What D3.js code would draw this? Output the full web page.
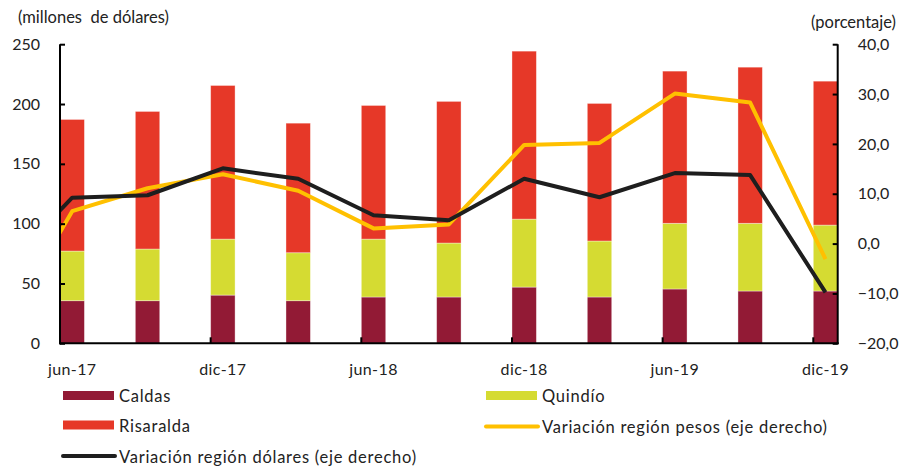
<!DOCTYPE html>
<html>
<head>
<meta charset="utf-8">
<script src="https://cdn.jsdelivr.net/npm/d3@7"></script>
<style>
  html, body { margin: 0; padding: 0; background: #fff; }
  svg text { font-family: Lato, "Open Sans", sans-serif; fill: #222; }
</style>
</head>
<body>
<svg id="chart" width="902" height="466"></svg>
<script>
// ---- data ----
const categories = ["jun-17","sep-17","dic-17","mar-18","jun-18","sep-18","dic-18","mar-19","jun-19","sep-19","dic-19"];
const tickLabels = ["jun-17","dic-17","jun-18","dic-18","jun-19","dic-19"];
const caldas    = [35.6, 35.6, 40.3, 35.6, 38.7, 38.7, 47.0, 38.7, 45.4, 43.7, 43.7];
const quindio   = [41.5, 43.2, 46.8, 40.1, 48.4, 45.1, 56.8, 46.8, 54.9, 56.6, 55.1];
const risaralda = [110.0, 115.0, 128.4, 108.3, 111.7, 118.4, 140.4, 115.0, 127.2, 130.5, 120.3];
// previous quarter (mar-17) only shows as the clipped entry segment
const prevCategory = "mar-17";
const varPesosPrev = -19.6;
const varDolaresPrev = -6.5;
const varPesos   = [6.5, 11.1, 13.9, 10.6, 3.05, 3.85, 19.8, 20.2, 30.1, 28.3, -3.1];
const varDolares = [9.2, 9.7, 15.1, 13.0, 5.7, 4.7, 13.0, 9.3, 14.15, 13.75, -9.8];
const leftTicks  = [0, 50, 100, 150, 200, 250];
const rightTicks = [-20, -10, 0, 10, 20, 30, 40];

const colors = { caldas: "#921a35", quindio: "#d5db32", risaralda: "#e63828", pesos: "#ffc000", dolares: "#1e1e1e" };

// ---- layout ----
const svg = d3.select("#chart");
const L = 60, R = 837.7, T = 44.2, B = 343.3;

const x = d3.scaleBand().domain(categories).range([L, R]).paddingInner(0.676).paddingOuter(0);
const yL = d3.scaleLinear().domain([0, 250]).range([B, T]);
const yR = d3.scaleLinear().domain([-20, 40]).range([B, T]);
const bw = x.bandwidth();
const cx = d => x(d) + bw / 2;

// ---- stacked bars ----
const rows = categories.map((c, i) => ({ cat: c, caldas: caldas[i], quindio: quindio[i], risaralda: risaralda[i] }));
const stack = d3.stack().keys(["caldas", "quindio", "risaralda"])(rows);
svg.append("g").selectAll("g").data(stack).join("g")
  .attr("fill", s => colors[s.key])
  .selectAll("rect").data(s => s).join("rect")
  .attr("x", d => x(d.data.cat))
  .attr("width", bw)
  .attr("y", d => yL(d[1]))
  .attr("height", d => yL(d[0]) - yL(d[1]))
  .attr("stroke", "rgba(255,255,255,0.45)")
  .attr("stroke-width", 0.8);

// ---- lines (clipped to plot area) ----
svg.append("defs").append("clipPath").attr("id", "clip")
  .append("rect").attr("x", L).attr("y", 0).attr("width", R - L + 6).attr("height", 466);

const step = x.step();
const linePts = (prev, vals) => [[cx(categories[0]) - step, yR(prev)]]
  .concat(vals.map((v, i) => [cx(categories[i]), yR(v)]));
const lineGen = d3.line();
const lg = svg.append("g").attr("clip-path", "url(#clip)");
lg.append("path").attr("d", lineGen(linePts(varPesosPrev, varPesos)))
  .attr("fill", "none").attr("stroke", colors.pesos).attr("stroke-width", 4).attr("stroke-linejoin", "round");
lg.append("path").attr("d", lineGen(linePts(varDolaresPrev, varDolares)))
  .attr("fill", "none").attr("stroke", colors.dolares).attr("stroke-width", 4).attr("stroke-linejoin", "round");

// ---- axes ----
const axisFont = 16;
const gL = svg.append("g").attr("transform", `translate(${L},0)`)
  .call(d3.axisRight(yL).tickValues(leftTicks).tickSize(5).tickFormat(d3.format("d")));
gL.select(".domain").remove();
gL.selectAll(".tick line").attr("stroke", "#000").attr("stroke-width", 2);
gL.selectAll(".tick text").attr("x", -20).attr("text-anchor", "end").attr("font-size", axisFont).attr("fill", "#222");

const gR = svg.append("g").attr("transform", `translate(${R},0)`)
  .call(d3.axisLeft(yR).tickValues(rightTicks).tickSize(5).tickFormat(d => d3.format(".1f")(d).replace(".", ",")));
gR.select(".domain").remove();
gR.selectAll(".tick line").attr("stroke", "#000").attr("stroke-width", 2);
gR.selectAll(".tick text").attr("x", 20).attr("text-anchor", "start").attr("font-size", axisFont).attr("fill", "#222");

// bottom axis labels at bar centres
const gB = svg.append("g").attr("transform", `translate(0,${B})`)
  .call(d3.axisBottom(x).tickValues(tickLabels).tickSize(0));
gB.select(".domain").remove();
gB.selectAll(".tick text").attr("y", 20).attr("dy", "0.71em").attr("font-size", axisFont)
  .attr("letter-spacing", 0.4).attr("fill", "#222");

// bottom ticks at left edge of every other bar
svg.append("g").selectAll("line").data(tickLabels.slice(1)).join("line")
  .attr("x1", d => x(d)).attr("x2", d => x(d))
  .attr("y1", B).attr("y2", B - 6)
  .attr("stroke", "#000").attr("stroke-width", 2);

// axis lines
svg.append("line").attr("x1", L).attr("x2", L).attr("y1", T).attr("y2", B + 1).attr("stroke", "#000").attr("stroke-width", 2);
svg.append("line").attr("x1", R).attr("x2", R).attr("y1", T).attr("y2", B + 1).attr("stroke", "#000").attr("stroke-width", 2);
svg.append("line").attr("x1", L - 1).attr("x2", R + 1).attr("y1", B).attr("y2", B).attr("stroke", "#000").attr("stroke-width", 2);

// axis titles
svg.append("text").attr("x", 18).attr("y", 23).attr("font-size", 16.5).attr("xml:space", "preserve").text("(millones  de dólares)");
svg.append("text").attr("x", 896).attr("y", 28).attr("text-anchor", "end").attr("font-size", 16.5).text("(porcentaje)");

// ---- legend ----
const legend = [
  { label: "Caldas", type: "rect", color: colors.caldas, x: 63, y: 395.5 },
  { label: "Quindío", type: "rect", color: colors.quindio, x: 486, y: 395.5 },
  { label: "Risaralda", type: "rect", color: colors.risaralda, x: 63, y: 425 },
  { label: "Variación región pesos (eje derecho)", type: "line", color: colors.pesos, x: 486, y: 426.5 },
  { label: "Variación región dólares (eje derecho)", type: "line", color: colors.dolares, x: 63, y: 456 }
];
const lgd = svg.append("g");
legend.forEach(it => {
  if (it.type === "rect") {
    lgd.append("rect").attr("x", it.x).attr("y", it.y - 4.5).attr("width", 51).attr("height", 9).attr("fill", it.color);
  } else {
    lgd.append("line").attr("x1", it.x).attr("x2", it.x + 52).attr("y1", it.y).attr("y2", it.y)
      .attr("stroke", it.color).attr("stroke-width", 4).attr("stroke-linecap", "round");
  }
  lgd.append("text").attr("x", it.x + 56).attr("y", it.y + 6.5).attr("font-size", 16.5)
    .attr("letter-spacing", 0.75).text(it.label);
});
</script>
</body>
</html>
